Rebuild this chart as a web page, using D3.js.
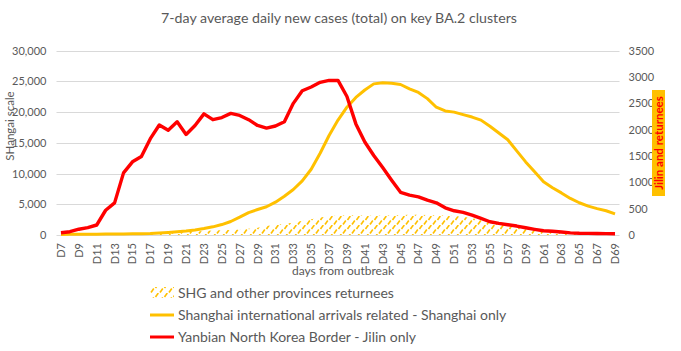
<!DOCTYPE html>
<html>
<head>
<meta charset="utf-8">
<script src="https://cdn.jsdelivr.net/npm/d3@7"></script>
<style>
    html, body { margin: 0; padding: 0; background: #fff; }
    svg { display: block; }
</style>
</head>
<body>
<div id="chart"></div>
<script>
const days = ["D7", "D8", "D9", "D10", "D11", "D12", "D13", "D14", "D15", "D16", "D17", "D18", "D19", "D20",
    "D21", "D22", "D23", "D24", "D25", "D26", "D27", "D28", "D29", "D30", "D31", "D32", "D33", "D34", "D35",
    "D36", "D37", "D38", "D39", "D40", "D41", "D42", "D43", "D44", "D45", "D46", "D47", "D48", "D49", "D50",
    "D51", "D52", "D53", "D54", "D55", "D56", "D57", "D58", "D59", "D60", "D61", "D62", "D63", "D64", "D65",
    "D66", "D67", "D68", "D69"];

// Shanghai international arrivals related (left axis)
const shanghai = [100, 110, 120, 130, 140, 150, 160, 170, 190, 210, 250, 330, 420, 520,
    640, 820, 1050, 1330, 1700, 2200, 2900, 3650, 4150, 4600, 5350, 6300, 7400, 8800, 10700,
    13300, 16200, 18700, 20800, 22400, 23600, 24600, 24800, 24700, 24500, 23800, 23200, 22200, 20800, 20200,
    20000, 19600, 19200, 18700, 17700, 16600, 15500, 13700, 11900, 10300, 8650, 7700, 6850, 5950, 5250,
    4700, 4300, 3950, 3450];

// Yanbian North Korea Border - Jilin (right axis)
const jilin = [43, 62, 110, 140, 190, 470, 610, 1180, 1390, 1490, 1830, 2090, 1990, 2150,
    1910, 2080, 2300, 2190, 2230, 2310, 2270, 2190, 2080, 2030, 2070, 2150, 2500, 2740, 2810,
    2900, 2935, 2935, 2630, 2110, 1765, 1510, 1280, 1040, 810, 757, 725, 662, 611, 516,
    460, 429, 378, 316, 252, 221, 195, 170, 138, 108, 81, 70, 57, 40, 33,
    30, 28, 26, 24];

// SHG and other provinces returnees (right axis)
const returnees = [0, 0, 5, 10, 15, 20, 25, 25, 30, 30, 35, 40, 45, 50,
    55, 65, 75, 85, 90, 95, 105, 120, 140, 170, 195, 215, 235, 270, 300,
    330, 355, 370, 375, 375, 370, 365, 370, 375, 380, 385, 385, 380, 375, 370,
    360, 345, 320, 290, 250, 210, 175, 140, 115, 95, 75, 60, 45, 35, 25,
    20, 15, 10, 5];

const leftTicks = [0, 5000, 10000, 15000, 20000, 25000, 30000];
const rightTicks = [0, 500, 1000, 1500, 2000, 2500, 3000, 3500];

const width = 681;
const height = 351;
const margin = { top: 50.7, right: 61.5, bottom: 116, left: 56.5 };
const innerWidth = width - margin.left - margin.right;
const innerHeight = height - margin.top - margin.bottom;

const gold = "#FFC000";
const red = "#FF0000";
const textColor = "#595959";
const font = "Lato, 'Open Sans', sans-serif";

const svg = d3.select("#chart").append("svg")
    .attr("width", width)
    .attr("height", height)
    .attr("viewBox", `0 0 ${width} ${height}`);

const defs = svg.append("defs");
const hatch = defs.append("pattern")
    .attr("id", "hatch")
    .attr("patternUnits", "userSpaceOnUse")
    .attr("width", 9)
    .attr("height", 9);
hatch.append("path")
    .attr("d", "M1,8.5 L3.8,4.5")
    .attr("stroke", gold)
    .attr("stroke-width", 1.6);
hatch.append("path")
    .attr("d", "M5.5,4 L8.3,0")
    .attr("stroke", gold)
    .attr("stroke-width", 1.6);

// scales in page coordinates
const x = d3.scaleBand()
    .domain(days)
    .range([margin.left, margin.left + innerWidth])
    .padding(0);

const yLeft = d3.scaleLinear()
    .domain([0, 30000])
    .range([margin.top + innerHeight, margin.top]);

const yRight = d3.scaleLinear()
    .domain([0, 3500])
    .range([margin.top + innerHeight, margin.top]);

const cx = d => x(d) + x.bandwidth() / 2;
const baseY = margin.top + innerHeight;

// gridlines from left axis
svg.append("g")
    .selectAll("line")
    .data(leftTicks)
    .join("line")
    .attr("x1", margin.left)
    .attr("x2", margin.left + innerWidth)
    .attr("y1", d => Math.round(yLeft(d)) + 0.5)
    .attr("y2", d => Math.round(yLeft(d)) + 0.5)
    .attr("stroke", "#d9d9d9")
    .attr("stroke-width", 1);

// tick labels
const tickLabels = svg.append("g")
    .attr("font-family", font)
    .attr("font-size", 11)
    .attr("fill", textColor);

leftTicks.forEach(v => {
    tickLabels.append("text")
        .attr("x", margin.left - 10)
        .attr("y", yLeft(v) + 4)
        .attr("text-anchor", "end")
        .text(d3.format(",")(v));
});

rightTicks.forEach(v => {
    tickLabels.append("text")
        .attr("x", margin.left + innerWidth + 9)
        .attr("y", yRight(v) + 4)
        .text(`${v}`);
});

days.filter((d, i) => i % 2 === 0).forEach(d => {
    tickLabels.append("text")
        .attr("transform", `translate(${cx(d) + 4}, ${baseY + 8}) rotate(-90)`)
        .attr("text-anchor", "end")
        .text(d);
});

// returnees area (hatched)
svg.append("path")
    .datum(returnees)
    .attr("fill", "url(#hatch)")
    .attr("d", d3.area()
        .x((d, i) => cx(days[i]))
        .y0(baseY)
        .y1(d => yRight(d)));

svg.append("path")
    .datum(shanghai)
    .attr("fill", "none")
    .attr("stroke", gold)
    .attr("stroke-width", 3)
    .attr("stroke-linejoin", "round")
    .attr("d", d3.line()
        .x((d, i) => cx(days[i]))
        .y(d => yLeft(d)));

svg.append("path")
    .datum(jilin)
    .attr("fill", "none")
    .attr("stroke", red)
    .attr("stroke-width", 3.4)
    .attr("stroke-linejoin", "round")
    .attr("d", d3.line()
        .x((d, i) => cx(days[i]))
        .y(d => yRight(d)));

// titles
svg.append("text")
    .attr("x", 339)
    .attr("y", 23)
    .attr("text-anchor", "middle")
    .style("font-family", font)
    .style("font-size", "14.2px")
    .style("fill", textColor)
    .text("7-day average daily new cases (total) on key BA.2 clusters");

svg.append("text")
    .attr("transform", "rotate(-90)")
    .attr("x", -126)
    .attr("y", 14)
    .attr("text-anchor", "middle")
    .style("font-family", font)
    .style("font-size", "11.5px")
    .style("fill", textColor)
    .text("SHangai scale");

svg.append("text")
    .attr("x", 343)
    .attr("y", 275)
    .attr("text-anchor", "middle")
    .style("font-family", font)
    .style("font-size", "12px")
    .style("fill", textColor)
    .text("days from outbreak");

const rightTitle = svg.append("g")
    .attr("transform", "translate(658.5, 143) rotate(-90)");
rightTitle.append("rect")
    .attr("x", -53)
    .attr("y", -6.5)
    .attr("width", 106)
    .attr("height", 13)
    .attr("fill", gold);
rightTitle.append("text")
    .attr("x", 0)
    .attr("y", 0)
    .attr("dy", "0.35em")
    .attr("text-anchor", "middle")
    .style("font-family", font)
    .style("font-size", "11.5px")
    .style("font-weight", "bold")
    .style("fill", red)
    .text("Jilin and returnees");

// legend
const legendItems = [
    { label: "SHG and other provinces returnees", type: "area" },
    { label: "Shanghai international arrivals related - Shanghai only", type: "line", color: gold },
    { label: "Yanbian North Korea Border - Jilin only", type: "line", color: red }
];

const legend = svg.append("g")
    .attr("transform", "translate(150, 293)");

const items = legend.selectAll("g")
    .data(legendItems)
    .join("g")
    .attr("transform", (d, i) => `translate(0, ${i * 22})`);

items.filter(d => d.type === "area")
    .append("rect")
    .attr("x", 0)
    .attr("y", -6)
    .attr("width", 24)
    .attr("height", 11)
    .attr("fill", "url(#hatch)");

items.filter(d => d.type === "line")
    .append("line")
    .attr("x1", 0)
    .attr("x2", 24)
    .attr("y1", 0)
    .attr("y2", 0)
    .attr("stroke", d => d.color)
    .attr("stroke-width", 3);

items.append("text")
    .attr("x", 28)
    .attr("y", 0)
    .attr("dy", "0.35em")
    .style("font-family", font)
    .style("font-size", "14px")
    .style("fill", textColor)
    .text(d => d.label);
</script>
</body>
</html>
